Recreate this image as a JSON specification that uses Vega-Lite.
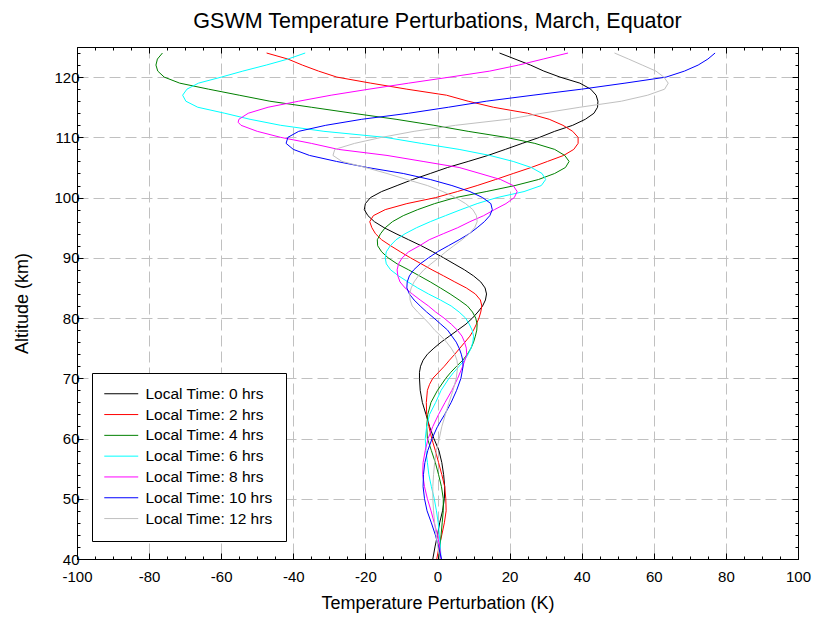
{
  "$schema": "https://vega.github.io/schema/vega-lite/v6.json",
  "width": 721,
  "height": 512,
  "autosize": {"type": "none"},
  "padding": {"left": 77, "top": 47, "right": 17, "bottom": 61},
  "background": "white",
  "title": {
    "text": "GSWM Temperature Perturbations, March, Equator",
    "font": "Liberation Sans",
    "fontSize": 21.5,
    "fontWeight": "normal",
    "color": "black",
    "anchor": "middle",
    "baseline": "bottom",
    "offset": -8
  },
  "datasets": {
    "gswm": [
      {"series": "Local Time: 0 hrs", "alt": 124, "temp": 17.2},
      {"series": "Local Time: 0 hrs", "alt": 123, "temp": 21.5},
      {"series": "Local Time: 0 hrs", "alt": 122, "temp": 25.8},
      {"series": "Local Time: 0 hrs", "alt": 121, "temp": 29.5},
      {"series": "Local Time: 0 hrs", "alt": 120, "temp": 34.0},
      {"series": "Local Time: 0 hrs", "alt": 119, "temp": 39.5},
      {"series": "Local Time: 0 hrs", "alt": 118, "temp": 42.5},
      {"series": "Local Time: 0 hrs", "alt": 117, "temp": 44.0},
      {"series": "Local Time: 0 hrs", "alt": 116, "temp": 44.5},
      {"series": "Local Time: 0 hrs", "alt": 115, "temp": 44.4},
      {"series": "Local Time: 0 hrs", "alt": 114, "temp": 43.4},
      {"series": "Local Time: 0 hrs", "alt": 113, "temp": 41.0},
      {"series": "Local Time: 0 hrs", "alt": 112, "temp": 37.5},
      {"series": "Local Time: 0 hrs", "alt": 111, "temp": 32.5},
      {"series": "Local Time: 0 hrs", "alt": 110, "temp": 28.3},
      {"series": "Local Time: 0 hrs", "alt": 109, "temp": 23.5},
      {"series": "Local Time: 0 hrs", "alt": 108, "temp": 18.8},
      {"series": "Local Time: 0 hrs", "alt": 107, "temp": 14.0},
      {"series": "Local Time: 0 hrs", "alt": 106, "temp": 8.5},
      {"series": "Local Time: 0 hrs", "alt": 105, "temp": 2.8},
      {"series": "Local Time: 0 hrs", "alt": 104, "temp": -2.0},
      {"series": "Local Time: 0 hrs", "alt": 103, "temp": -6.9},
      {"series": "Local Time: 0 hrs", "alt": 102, "temp": -11.2},
      {"series": "Local Time: 0 hrs", "alt": 101, "temp": -15.5},
      {"series": "Local Time: 0 hrs", "alt": 100, "temp": -18.6},
      {"series": "Local Time: 0 hrs", "alt": 99, "temp": -20.0},
      {"series": "Local Time: 0 hrs", "alt": 98, "temp": -20.3},
      {"series": "Local Time: 0 hrs", "alt": 97, "temp": -19.3},
      {"series": "Local Time: 0 hrs", "alt": 96, "temp": -17.5},
      {"series": "Local Time: 0 hrs", "alt": 95, "temp": -14.8},
      {"series": "Local Time: 0 hrs", "alt": 94, "temp": -11.5},
      {"series": "Local Time: 0 hrs", "alt": 93, "temp": -8.0},
      {"series": "Local Time: 0 hrs", "alt": 92, "temp": -4.5},
      {"series": "Local Time: 0 hrs", "alt": 91, "temp": -1.3},
      {"series": "Local Time: 0 hrs", "alt": 90, "temp": 1.7},
      {"series": "Local Time: 0 hrs", "alt": 89, "temp": 4.6},
      {"series": "Local Time: 0 hrs", "alt": 88, "temp": 7.5},
      {"series": "Local Time: 0 hrs", "alt": 87, "temp": 10.0},
      {"series": "Local Time: 0 hrs", "alt": 86, "temp": 12.0},
      {"series": "Local Time: 0 hrs", "alt": 85, "temp": 13.2},
      {"series": "Local Time: 0 hrs", "alt": 84, "temp": 13.6},
      {"series": "Local Time: 0 hrs", "alt": 83, "temp": 13.3},
      {"series": "Local Time: 0 hrs", "alt": 82, "temp": 12.5},
      {"series": "Local Time: 0 hrs", "alt": 81, "temp": 11.2},
      {"series": "Local Time: 0 hrs", "alt": 80, "temp": 9.7},
      {"series": "Local Time: 0 hrs", "alt": 79, "temp": 7.9},
      {"series": "Local Time: 0 hrs", "alt": 78, "temp": 5.6},
      {"series": "Local Time: 0 hrs", "alt": 77, "temp": 3.3},
      {"series": "Local Time: 0 hrs", "alt": 76, "temp": 1.0},
      {"series": "Local Time: 0 hrs", "alt": 75, "temp": -1.0},
      {"series": "Local Time: 0 hrs", "alt": 74, "temp": -2.8},
      {"series": "Local Time: 0 hrs", "alt": 73, "temp": -4.0},
      {"series": "Local Time: 0 hrs", "alt": 72, "temp": -4.7},
      {"series": "Local Time: 0 hrs", "alt": 71, "temp": -5.0},
      {"series": "Local Time: 0 hrs", "alt": 70, "temp": -5.0},
      {"series": "Local Time: 0 hrs", "alt": 68, "temp": -4.8},
      {"series": "Local Time: 0 hrs", "alt": 66, "temp": -4.2},
      {"series": "Local Time: 0 hrs", "alt": 64, "temp": -3.2},
      {"series": "Local Time: 0 hrs", "alt": 62, "temp": -2.2},
      {"series": "Local Time: 0 hrs", "alt": 60, "temp": -1.0},
      {"series": "Local Time: 0 hrs", "alt": 58, "temp": 0.4},
      {"series": "Local Time: 0 hrs", "alt": 56, "temp": 1.2},
      {"series": "Local Time: 0 hrs", "alt": 54, "temp": 1.7},
      {"series": "Local Time: 0 hrs", "alt": 52, "temp": 2.0},
      {"series": "Local Time: 0 hrs", "alt": 50, "temp": 1.9},
      {"series": "Local Time: 0 hrs", "alt": 48, "temp": 1.4},
      {"series": "Local Time: 0 hrs", "alt": 46, "temp": 0.6},
      {"series": "Local Time: 0 hrs", "alt": 44, "temp": 0.0},
      {"series": "Local Time: 0 hrs", "alt": 42, "temp": -0.7},
      {"series": "Local Time: 0 hrs", "alt": 40, "temp": -1.3},

      {"series": "Local Time: 2 hrs", "alt": 124, "temp": -47.4},
      {"series": "Local Time: 2 hrs", "alt": 123, "temp": -41.5},
      {"series": "Local Time: 2 hrs", "alt": 122, "temp": -37.5},
      {"series": "Local Time: 2 hrs", "alt": 121, "temp": -33.0},
      {"series": "Local Time: 2 hrs", "alt": 120, "temp": -27.9},
      {"series": "Local Time: 2 hrs", "alt": 119, "temp": -18.5},
      {"series": "Local Time: 2 hrs", "alt": 118, "temp": -8.5},
      {"series": "Local Time: 2 hrs", "alt": 117, "temp": 2.5},
      {"series": "Local Time: 2 hrs", "alt": 116, "temp": 8.5},
      {"series": "Local Time: 2 hrs", "alt": 115, "temp": 15.5},
      {"series": "Local Time: 2 hrs", "alt": 114, "temp": 25.0},
      {"series": "Local Time: 2 hrs", "alt": 113, "temp": 31.0},
      {"series": "Local Time: 2 hrs", "alt": 112, "temp": 34.8},
      {"series": "Local Time: 2 hrs", "alt": 111, "temp": 37.5},
      {"series": "Local Time: 2 hrs", "alt": 110, "temp": 39.0},
      {"series": "Local Time: 2 hrs", "alt": 109, "temp": 39.0},
      {"series": "Local Time: 2 hrs", "alt": 108, "temp": 37.8},
      {"series": "Local Time: 2 hrs", "alt": 107, "temp": 35.0},
      {"series": "Local Time: 2 hrs", "alt": 106, "temp": 30.5},
      {"series": "Local Time: 2 hrs", "alt": 105, "temp": 26.0},
      {"series": "Local Time: 2 hrs", "alt": 104, "temp": 21.0},
      {"series": "Local Time: 2 hrs", "alt": 103, "temp": 16.1},
      {"series": "Local Time: 2 hrs", "alt": 102, "temp": 11.0},
      {"series": "Local Time: 2 hrs", "alt": 101, "temp": 5.5},
      {"series": "Local Time: 2 hrs", "alt": 100, "temp": -0.5},
      {"series": "Local Time: 2 hrs", "alt": 99, "temp": -8.5},
      {"series": "Local Time: 2 hrs", "alt": 98, "temp": -14.5},
      {"series": "Local Time: 2 hrs", "alt": 97, "temp": -17.8},
      {"series": "Local Time: 2 hrs", "alt": 96, "temp": -18.8},
      {"series": "Local Time: 2 hrs", "alt": 95, "temp": -18.2},
      {"series": "Local Time: 2 hrs", "alt": 94, "temp": -17.2},
      {"series": "Local Time: 2 hrs", "alt": 93, "temp": -15.5},
      {"series": "Local Time: 2 hrs", "alt": 92, "temp": -13.0},
      {"series": "Local Time: 2 hrs", "alt": 91, "temp": -10.3},
      {"series": "Local Time: 2 hrs", "alt": 90, "temp": -7.5},
      {"series": "Local Time: 2 hrs", "alt": 89, "temp": -4.5},
      {"series": "Local Time: 2 hrs", "alt": 88, "temp": -1.5},
      {"series": "Local Time: 2 hrs", "alt": 87, "temp": 1.7},
      {"series": "Local Time: 2 hrs", "alt": 86, "temp": 4.8},
      {"series": "Local Time: 2 hrs", "alt": 85, "temp": 8.0},
      {"series": "Local Time: 2 hrs", "alt": 84, "temp": 10.5},
      {"series": "Local Time: 2 hrs", "alt": 83, "temp": 11.9},
      {"series": "Local Time: 2 hrs", "alt": 82, "temp": 12.3},
      {"series": "Local Time: 2 hrs", "alt": 81, "temp": 12.0},
      {"series": "Local Time: 2 hrs", "alt": 80, "temp": 11.5},
      {"series": "Local Time: 2 hrs", "alt": 79, "temp": 10.8},
      {"series": "Local Time: 2 hrs", "alt": 78, "temp": 10.0},
      {"series": "Local Time: 2 hrs", "alt": 77, "temp": 9.0},
      {"series": "Local Time: 2 hrs", "alt": 76, "temp": 7.6},
      {"series": "Local Time: 2 hrs", "alt": 75, "temp": 6.2},
      {"series": "Local Time: 2 hrs", "alt": 74, "temp": 4.8},
      {"series": "Local Time: 2 hrs", "alt": 73, "temp": 3.3},
      {"series": "Local Time: 2 hrs", "alt": 72, "temp": 1.9},
      {"series": "Local Time: 2 hrs", "alt": 71, "temp": 0.3},
      {"series": "Local Time: 2 hrs", "alt": 70, "temp": -1.3},
      {"series": "Local Time: 2 hrs", "alt": 69, "temp": -2.2},
      {"series": "Local Time: 2 hrs", "alt": 68, "temp": -2.8},
      {"series": "Local Time: 2 hrs", "alt": 66, "temp": -3.1},
      {"series": "Local Time: 2 hrs", "alt": 64, "temp": -3.0},
      {"series": "Local Time: 2 hrs", "alt": 62, "temp": -2.4},
      {"series": "Local Time: 2 hrs", "alt": 60, "temp": -1.6},
      {"series": "Local Time: 2 hrs", "alt": 58, "temp": -0.6},
      {"series": "Local Time: 2 hrs", "alt": 56, "temp": 0.3},
      {"series": "Local Time: 2 hrs", "alt": 54, "temp": 1.2},
      {"series": "Local Time: 2 hrs", "alt": 52, "temp": 2.0},
      {"series": "Local Time: 2 hrs", "alt": 50, "temp": 2.3},
      {"series": "Local Time: 2 hrs", "alt": 48, "temp": 2.4},
      {"series": "Local Time: 2 hrs", "alt": 46, "temp": 1.9},
      {"series": "Local Time: 2 hrs", "alt": 44, "temp": 1.2},
      {"series": "Local Time: 2 hrs", "alt": 42, "temp": 0.4},
      {"series": "Local Time: 2 hrs", "alt": 40, "temp": -0.2},

      {"series": "Local Time: 4 hrs", "alt": 124, "temp": -76.3},
      {"series": "Local Time: 4 hrs", "alt": 123, "temp": -77.7},
      {"series": "Local Time: 4 hrs", "alt": 122, "temp": -78.1},
      {"series": "Local Time: 4 hrs", "alt": 121, "temp": -77.6},
      {"series": "Local Time: 4 hrs", "alt": 120, "temp": -75.8},
      {"series": "Local Time: 4 hrs", "alt": 119, "temp": -71.5},
      {"series": "Local Time: 4 hrs", "alt": 118, "temp": -63.5},
      {"series": "Local Time: 4 hrs", "alt": 117, "temp": -55.0},
      {"series": "Local Time: 4 hrs", "alt": 116, "temp": -46.5},
      {"series": "Local Time: 4 hrs", "alt": 115, "temp": -35.0},
      {"series": "Local Time: 4 hrs", "alt": 114, "temp": -23.5},
      {"series": "Local Time: 4 hrs", "alt": 113, "temp": -11.5},
      {"series": "Local Time: 4 hrs", "alt": 112, "temp": -1.0},
      {"series": "Local Time: 4 hrs", "alt": 111, "temp": 8.5},
      {"series": "Local Time: 4 hrs", "alt": 110, "temp": 19.0},
      {"series": "Local Time: 4 hrs", "alt": 109, "temp": 27.0},
      {"series": "Local Time: 4 hrs", "alt": 108, "temp": 32.5},
      {"series": "Local Time: 4 hrs", "alt": 107, "temp": 35.3},
      {"series": "Local Time: 4 hrs", "alt": 106, "temp": 36.5},
      {"series": "Local Time: 4 hrs", "alt": 105, "temp": 35.5},
      {"series": "Local Time: 4 hrs", "alt": 104, "temp": 32.5},
      {"series": "Local Time: 4 hrs", "alt": 103, "temp": 28.0},
      {"series": "Local Time: 4 hrs", "alt": 102, "temp": 21.5},
      {"series": "Local Time: 4 hrs", "alt": 101, "temp": 13.5},
      {"series": "Local Time: 4 hrs", "alt": 100, "temp": 5.0},
      {"series": "Local Time: 4 hrs", "alt": 99, "temp": -0.8},
      {"series": "Local Time: 4 hrs", "alt": 98, "temp": -5.5},
      {"series": "Local Time: 4 hrs", "alt": 97, "temp": -9.5},
      {"series": "Local Time: 4 hrs", "alt": 96, "temp": -12.5},
      {"series": "Local Time: 4 hrs", "alt": 95, "temp": -14.5},
      {"series": "Local Time: 4 hrs", "alt": 94, "temp": -15.8},
      {"series": "Local Time: 4 hrs", "alt": 93, "temp": -16.7},
      {"series": "Local Time: 4 hrs", "alt": 92, "temp": -16.6},
      {"series": "Local Time: 4 hrs", "alt": 91, "temp": -15.5},
      {"series": "Local Time: 4 hrs", "alt": 90, "temp": -13.7},
      {"series": "Local Time: 4 hrs", "alt": 89, "temp": -11.2},
      {"series": "Local Time: 4 hrs", "alt": 88, "temp": -8.0},
      {"series": "Local Time: 4 hrs", "alt": 87, "temp": -5.0},
      {"series": "Local Time: 4 hrs", "alt": 86, "temp": -2.0},
      {"series": "Local Time: 4 hrs", "alt": 85, "temp": 0.8},
      {"series": "Local Time: 4 hrs", "alt": 84, "temp": 3.5},
      {"series": "Local Time: 4 hrs", "alt": 83, "temp": 6.0},
      {"series": "Local Time: 4 hrs", "alt": 82, "temp": 8.3},
      {"series": "Local Time: 4 hrs", "alt": 81, "temp": 9.7},
      {"series": "Local Time: 4 hrs", "alt": 80, "temp": 10.6},
      {"series": "Local Time: 4 hrs", "alt": 79, "temp": 11.0},
      {"series": "Local Time: 4 hrs", "alt": 78, "temp": 10.9},
      {"series": "Local Time: 4 hrs", "alt": 77, "temp": 10.5},
      {"series": "Local Time: 4 hrs", "alt": 76, "temp": 10.0},
      {"series": "Local Time: 4 hrs", "alt": 75, "temp": 9.3},
      {"series": "Local Time: 4 hrs", "alt": 74, "temp": 8.3},
      {"series": "Local Time: 4 hrs", "alt": 73, "temp": 7.0},
      {"series": "Local Time: 4 hrs", "alt": 72, "temp": 5.3},
      {"series": "Local Time: 4 hrs", "alt": 71, "temp": 3.7},
      {"series": "Local Time: 4 hrs", "alt": 70, "temp": 2.3},
      {"series": "Local Time: 4 hrs", "alt": 68, "temp": 0.0},
      {"series": "Local Time: 4 hrs", "alt": 66, "temp": -1.8},
      {"series": "Local Time: 4 hrs", "alt": 64, "temp": -2.7},
      {"series": "Local Time: 4 hrs", "alt": 62, "temp": -3.0},
      {"series": "Local Time: 4 hrs", "alt": 60, "temp": -2.8},
      {"series": "Local Time: 4 hrs", "alt": 58, "temp": -1.7},
      {"series": "Local Time: 4 hrs", "alt": 56, "temp": -0.6},
      {"series": "Local Time: 4 hrs", "alt": 54, "temp": 0.3},
      {"series": "Local Time: 4 hrs", "alt": 52, "temp": 1.1},
      {"series": "Local Time: 4 hrs", "alt": 50, "temp": 1.6},
      {"series": "Local Time: 4 hrs", "alt": 48, "temp": 1.6},
      {"series": "Local Time: 4 hrs", "alt": 46, "temp": 1.3},
      {"series": "Local Time: 4 hrs", "alt": 44, "temp": 1.0},
      {"series": "Local Time: 4 hrs", "alt": 42, "temp": 0.7},
      {"series": "Local Time: 4 hrs", "alt": 40, "temp": 0.5},

      {"series": "Local Time: 6 hrs", "alt": 124, "temp": -36.7},
      {"series": "Local Time: 6 hrs", "alt": 123, "temp": -41.5},
      {"series": "Local Time: 6 hrs", "alt": 122, "temp": -47.5},
      {"series": "Local Time: 6 hrs", "alt": 121, "temp": -54.0},
      {"series": "Local Time: 6 hrs", "alt": 120, "temp": -60.0},
      {"series": "Local Time: 6 hrs", "alt": 119, "temp": -66.3},
      {"series": "Local Time: 6 hrs", "alt": 118, "temp": -69.5},
      {"series": "Local Time: 6 hrs", "alt": 117, "temp": -70.7},
      {"series": "Local Time: 6 hrs", "alt": 116, "temp": -69.8},
      {"series": "Local Time: 6 hrs", "alt": 115, "temp": -66.5},
      {"series": "Local Time: 6 hrs", "alt": 114, "temp": -59.0},
      {"series": "Local Time: 6 hrs", "alt": 113, "temp": -52.0},
      {"series": "Local Time: 6 hrs", "alt": 112, "temp": -43.5},
      {"series": "Local Time: 6 hrs", "alt": 111, "temp": -31.5},
      {"series": "Local Time: 6 hrs", "alt": 110, "temp": -14.5},
      {"series": "Local Time: 6 hrs", "alt": 109, "temp": -4.5},
      {"series": "Local Time: 6 hrs", "alt": 108, "temp": 6.0},
      {"series": "Local Time: 6 hrs", "alt": 107, "temp": 14.5},
      {"series": "Local Time: 6 hrs", "alt": 106, "temp": 21.0},
      {"series": "Local Time: 6 hrs", "alt": 105, "temp": 26.0},
      {"series": "Local Time: 6 hrs", "alt": 104, "temp": 29.0},
      {"series": "Local Time: 6 hrs", "alt": 103, "temp": 30.0},
      {"series": "Local Time: 6 hrs", "alt": 102, "temp": 28.8},
      {"series": "Local Time: 6 hrs", "alt": 101, "temp": 24.0},
      {"series": "Local Time: 6 hrs", "alt": 100, "temp": 16.5},
      {"series": "Local Time: 6 hrs", "alt": 99, "temp": 11.0},
      {"series": "Local Time: 6 hrs", "alt": 98, "temp": 6.5},
      {"series": "Local Time: 6 hrs", "alt": 97, "temp": 2.2},
      {"series": "Local Time: 6 hrs", "alt": 96, "temp": -2.0},
      {"series": "Local Time: 6 hrs", "alt": 95, "temp": -5.8},
      {"series": "Local Time: 6 hrs", "alt": 94, "temp": -9.0},
      {"series": "Local Time: 6 hrs", "alt": 93, "temp": -11.5},
      {"series": "Local Time: 6 hrs", "alt": 92, "temp": -13.1},
      {"series": "Local Time: 6 hrs", "alt": 91, "temp": -14.2},
      {"series": "Local Time: 6 hrs", "alt": 90, "temp": -14.5},
      {"series": "Local Time: 6 hrs", "alt": 89, "temp": -14.2},
      {"series": "Local Time: 6 hrs", "alt": 88, "temp": -13.0},
      {"series": "Local Time: 6 hrs", "alt": 87, "temp": -10.8},
      {"series": "Local Time: 6 hrs", "alt": 86, "temp": -8.2},
      {"series": "Local Time: 6 hrs", "alt": 85, "temp": -5.5},
      {"series": "Local Time: 6 hrs", "alt": 84, "temp": -2.5},
      {"series": "Local Time: 6 hrs", "alt": 83, "temp": 0.8},
      {"series": "Local Time: 6 hrs", "alt": 82, "temp": 3.8},
      {"series": "Local Time: 6 hrs", "alt": 81, "temp": 6.0},
      {"series": "Local Time: 6 hrs", "alt": 80, "temp": 7.8},
      {"series": "Local Time: 6 hrs", "alt": 79, "temp": 8.8},
      {"series": "Local Time: 6 hrs", "alt": 78, "temp": 9.6},
      {"series": "Local Time: 6 hrs", "alt": 77, "temp": 10.0},
      {"series": "Local Time: 6 hrs", "alt": 76, "temp": 9.8},
      {"series": "Local Time: 6 hrs", "alt": 75, "temp": 9.3},
      {"series": "Local Time: 6 hrs", "alt": 74, "temp": 8.5},
      {"series": "Local Time: 6 hrs", "alt": 73, "temp": 7.5},
      {"series": "Local Time: 6 hrs", "alt": 72, "temp": 6.0},
      {"series": "Local Time: 6 hrs", "alt": 71, "temp": 4.5},
      {"series": "Local Time: 6 hrs", "alt": 70, "temp": 3.2},
      {"series": "Local Time: 6 hrs", "alt": 68, "temp": 1.0},
      {"series": "Local Time: 6 hrs", "alt": 66, "temp": -0.5},
      {"series": "Local Time: 6 hrs", "alt": 64, "temp": -2.2},
      {"series": "Local Time: 6 hrs", "alt": 62, "temp": -3.0},
      {"series": "Local Time: 6 hrs", "alt": 60, "temp": -3.4},
      {"series": "Local Time: 6 hrs", "alt": 58, "temp": -3.2},
      {"series": "Local Time: 6 hrs", "alt": 56, "temp": -2.8},
      {"series": "Local Time: 6 hrs", "alt": 54, "temp": -2.4},
      {"series": "Local Time: 6 hrs", "alt": 52, "temp": -1.7},
      {"series": "Local Time: 6 hrs", "alt": 50, "temp": -0.9},
      {"series": "Local Time: 6 hrs", "alt": 48, "temp": -0.3},
      {"series": "Local Time: 6 hrs", "alt": 46, "temp": 0.2},
      {"series": "Local Time: 6 hrs", "alt": 44, "temp": 0.5},
      {"series": "Local Time: 6 hrs", "alt": 42, "temp": 0.8},
      {"series": "Local Time: 6 hrs", "alt": 40, "temp": 1.0},

      {"series": "Local Time: 8 hrs", "alt": 124, "temp": 36.2},
      {"series": "Local Time: 8 hrs", "alt": 123, "temp": 29.3},
      {"series": "Local Time: 8 hrs", "alt": 122, "temp": 22.5},
      {"series": "Local Time: 8 hrs", "alt": 121, "temp": 14.5},
      {"series": "Local Time: 8 hrs", "alt": 120, "temp": 3.4},
      {"series": "Local Time: 8 hrs", "alt": 119, "temp": -8.0},
      {"series": "Local Time: 8 hrs", "alt": 118, "temp": -19.0},
      {"series": "Local Time: 8 hrs", "alt": 117, "temp": -29.5},
      {"series": "Local Time: 8 hrs", "alt": 116, "temp": -38.5},
      {"series": "Local Time: 8 hrs", "alt": 115, "temp": -47.0},
      {"series": "Local Time: 8 hrs", "alt": 114, "temp": -52.5},
      {"series": "Local Time: 8 hrs", "alt": 113, "temp": -55.1},
      {"series": "Local Time: 8 hrs", "alt": 112.5, "temp": -55.3},
      {"series": "Local Time: 8 hrs", "alt": 112, "temp": -54.5},
      {"series": "Local Time: 8 hrs", "alt": 111, "temp": -50.0},
      {"series": "Local Time: 8 hrs", "alt": 110, "temp": -43.5},
      {"series": "Local Time: 8 hrs", "alt": 109, "temp": -35.0},
      {"series": "Local Time: 8 hrs", "alt": 108, "temp": -27.5},
      {"series": "Local Time: 8 hrs", "alt": 107, "temp": -14.0},
      {"series": "Local Time: 8 hrs", "alt": 106, "temp": -4.0},
      {"series": "Local Time: 8 hrs", "alt": 105, "temp": 6.0},
      {"series": "Local Time: 8 hrs", "alt": 104, "temp": 11.8},
      {"series": "Local Time: 8 hrs", "alt": 103, "temp": 17.5},
      {"series": "Local Time: 8 hrs", "alt": 102, "temp": 21.0},
      {"series": "Local Time: 8 hrs", "alt": 101, "temp": 22.1},
      {"series": "Local Time: 8 hrs", "alt": 100, "temp": 21.3},
      {"series": "Local Time: 8 hrs", "alt": 99, "temp": 19.0},
      {"series": "Local Time: 8 hrs", "alt": 98, "temp": 15.8},
      {"series": "Local Time: 8 hrs", "alt": 97, "temp": 12.8},
      {"series": "Local Time: 8 hrs", "alt": 96, "temp": 9.0},
      {"series": "Local Time: 8 hrs", "alt": 95, "temp": 5.6},
      {"series": "Local Time: 8 hrs", "alt": 94, "temp": 1.6},
      {"series": "Local Time: 8 hrs", "alt": 93, "temp": -2.3},
      {"series": "Local Time: 8 hrs", "alt": 92, "temp": -5.0},
      {"series": "Local Time: 8 hrs", "alt": 91, "temp": -8.0},
      {"series": "Local Time: 8 hrs", "alt": 90, "temp": -9.8},
      {"series": "Local Time: 8 hrs", "alt": 89, "temp": -10.8},
      {"series": "Local Time: 8 hrs", "alt": 88, "temp": -11.2},
      {"series": "Local Time: 8 hrs", "alt": 87, "temp": -11.0},
      {"series": "Local Time: 8 hrs", "alt": 86, "temp": -10.4},
      {"series": "Local Time: 8 hrs", "alt": 85, "temp": -9.0},
      {"series": "Local Time: 8 hrs", "alt": 84, "temp": -7.0},
      {"series": "Local Time: 8 hrs", "alt": 83, "temp": -4.8},
      {"series": "Local Time: 8 hrs", "alt": 82, "temp": -2.5},
      {"series": "Local Time: 8 hrs", "alt": 81, "temp": -0.5},
      {"series": "Local Time: 8 hrs", "alt": 80, "temp": 1.8},
      {"series": "Local Time: 8 hrs", "alt": 79, "temp": 3.8},
      {"series": "Local Time: 8 hrs", "alt": 78, "temp": 5.5},
      {"series": "Local Time: 8 hrs", "alt": 77, "temp": 6.8},
      {"series": "Local Time: 8 hrs", "alt": 76, "temp": 7.5},
      {"series": "Local Time: 8 hrs", "alt": 75, "temp": 8.0},
      {"series": "Local Time: 8 hrs", "alt": 74, "temp": 8.1},
      {"series": "Local Time: 8 hrs", "alt": 73, "temp": 7.6},
      {"series": "Local Time: 8 hrs", "alt": 72, "temp": 7.0},
      {"series": "Local Time: 8 hrs", "alt": 70, "temp": 5.6},
      {"series": "Local Time: 8 hrs", "alt": 68, "temp": 4.0},
      {"series": "Local Time: 8 hrs", "alt": 66, "temp": 2.1},
      {"series": "Local Time: 8 hrs", "alt": 64, "temp": 0.3},
      {"series": "Local Time: 8 hrs", "alt": 62, "temp": -1.3},
      {"series": "Local Time: 8 hrs", "alt": 60, "temp": -2.6},
      {"series": "Local Time: 8 hrs", "alt": 58, "temp": -3.4},
      {"series": "Local Time: 8 hrs", "alt": 56, "temp": -4.0},
      {"series": "Local Time: 8 hrs", "alt": 54, "temp": -4.1},
      {"series": "Local Time: 8 hrs", "alt": 52, "temp": -3.6},
      {"series": "Local Time: 8 hrs", "alt": 50, "temp": -2.8},
      {"series": "Local Time: 8 hrs", "alt": 48, "temp": -1.8},
      {"series": "Local Time: 8 hrs", "alt": 46, "temp": -0.9},
      {"series": "Local Time: 8 hrs", "alt": 44, "temp": 0.0},
      {"series": "Local Time: 8 hrs", "alt": 42, "temp": 0.6},
      {"series": "Local Time: 8 hrs", "alt": 40, "temp": 1.0},

      {"series": "Local Time: 10 hrs", "alt": 124, "temp": 77.0},
      {"series": "Local Time: 10 hrs", "alt": 123, "temp": 75.0},
      {"series": "Local Time: 10 hrs", "alt": 122, "temp": 72.3},
      {"series": "Local Time: 10 hrs", "alt": 121, "temp": 68.5},
      {"series": "Local Time: 10 hrs", "alt": 120, "temp": 63.4},
      {"series": "Local Time: 10 hrs", "alt": 119, "temp": 52.0},
      {"series": "Local Time: 10 hrs", "alt": 118, "temp": 40.0},
      {"series": "Local Time: 10 hrs", "alt": 117, "temp": 26.5},
      {"series": "Local Time: 10 hrs", "alt": 116, "temp": 13.5},
      {"series": "Local Time: 10 hrs", "alt": 115, "temp": 3.0},
      {"series": "Local Time: 10 hrs", "alt": 114, "temp": -8.0},
      {"series": "Local Time: 10 hrs", "alt": 113, "temp": -21.0},
      {"series": "Local Time: 10 hrs", "alt": 112, "temp": -31.0},
      {"series": "Local Time: 10 hrs", "alt": 111, "temp": -38.5},
      {"series": "Local Time: 10 hrs", "alt": 110, "temp": -41.5},
      {"series": "Local Time: 10 hrs", "alt": 109, "temp": -42.0},
      {"series": "Local Time: 10 hrs", "alt": 108, "temp": -40.0},
      {"series": "Local Time: 10 hrs", "alt": 107, "temp": -35.5},
      {"series": "Local Time: 10 hrs", "alt": 106, "temp": -28.0},
      {"series": "Local Time: 10 hrs", "alt": 105, "temp": -19.5},
      {"series": "Local Time: 10 hrs", "alt": 104, "temp": -9.5},
      {"series": "Local Time: 10 hrs", "alt": 103, "temp": -2.0},
      {"series": "Local Time: 10 hrs", "alt": 102, "temp": 4.0},
      {"series": "Local Time: 10 hrs", "alt": 101, "temp": 9.0},
      {"series": "Local Time: 10 hrs", "alt": 100, "temp": 12.5},
      {"series": "Local Time: 10 hrs", "alt": 99, "temp": 14.8},
      {"series": "Local Time: 10 hrs", "alt": 98, "temp": 15.2},
      {"series": "Local Time: 10 hrs", "alt": 97, "temp": 14.5},
      {"series": "Local Time: 10 hrs", "alt": 96, "temp": 13.0},
      {"series": "Local Time: 10 hrs", "alt": 95, "temp": 11.0},
      {"series": "Local Time: 10 hrs", "alt": 94, "temp": 8.8},
      {"series": "Local Time: 10 hrs", "alt": 93, "temp": 6.0},
      {"series": "Local Time: 10 hrs", "alt": 92, "temp": 3.0},
      {"series": "Local Time: 10 hrs", "alt": 91, "temp": 0.0},
      {"series": "Local Time: 10 hrs", "alt": 90, "temp": -2.5},
      {"series": "Local Time: 10 hrs", "alt": 89, "temp": -4.8},
      {"series": "Local Time: 10 hrs", "alt": 88, "temp": -6.6},
      {"series": "Local Time: 10 hrs", "alt": 87, "temp": -7.8},
      {"series": "Local Time: 10 hrs", "alt": 86, "temp": -8.4},
      {"series": "Local Time: 10 hrs", "alt": 85, "temp": -8.5},
      {"series": "Local Time: 10 hrs", "alt": 84, "temp": -7.8},
      {"series": "Local Time: 10 hrs", "alt": 83, "temp": -6.5},
      {"series": "Local Time: 10 hrs", "alt": 82, "temp": -4.8},
      {"series": "Local Time: 10 hrs", "alt": 81, "temp": -3.0},
      {"series": "Local Time: 10 hrs", "alt": 80, "temp": -1.0},
      {"series": "Local Time: 10 hrs", "alt": 79, "temp": 0.9},
      {"series": "Local Time: 10 hrs", "alt": 78, "temp": 2.8},
      {"series": "Local Time: 10 hrs", "alt": 77, "temp": 4.0},
      {"series": "Local Time: 10 hrs", "alt": 76, "temp": 5.2},
      {"series": "Local Time: 10 hrs", "alt": 75, "temp": 6.0},
      {"series": "Local Time: 10 hrs", "alt": 74, "temp": 6.6},
      {"series": "Local Time: 10 hrs", "alt": 73, "temp": 7.0},
      {"series": "Local Time: 10 hrs", "alt": 72, "temp": 7.1},
      {"series": "Local Time: 10 hrs", "alt": 70, "temp": 6.5},
      {"series": "Local Time: 10 hrs", "alt": 68, "temp": 5.3},
      {"series": "Local Time: 10 hrs", "alt": 66, "temp": 3.8},
      {"series": "Local Time: 10 hrs", "alt": 64, "temp": 2.0},
      {"series": "Local Time: 10 hrs", "alt": 62, "temp": 0.0},
      {"series": "Local Time: 10 hrs", "alt": 60, "temp": -1.5},
      {"series": "Local Time: 10 hrs", "alt": 58, "temp": -2.7},
      {"series": "Local Time: 10 hrs", "alt": 56, "temp": -3.5},
      {"series": "Local Time: 10 hrs", "alt": 54, "temp": -3.9},
      {"series": "Local Time: 10 hrs", "alt": 52, "temp": -4.0},
      {"series": "Local Time: 10 hrs", "alt": 50, "temp": -3.6},
      {"series": "Local Time: 10 hrs", "alt": 48, "temp": -2.9},
      {"series": "Local Time: 10 hrs", "alt": 46, "temp": -1.7},
      {"series": "Local Time: 10 hrs", "alt": 44, "temp": -0.6},
      {"series": "Local Time: 10 hrs", "alt": 42, "temp": 0.3},
      {"series": "Local Time: 10 hrs", "alt": 40, "temp": 1.1},

      {"series": "Local Time: 12 hrs", "alt": 124, "temp": 49.1},
      {"series": "Local Time: 12 hrs", "alt": 123, "temp": 53.0},
      {"series": "Local Time: 12 hrs", "alt": 122, "temp": 56.8},
      {"series": "Local Time: 12 hrs", "alt": 121, "temp": 60.6},
      {"series": "Local Time: 12 hrs", "alt": 120, "temp": 62.8},
      {"series": "Local Time: 12 hrs", "alt": 119, "temp": 64.0},
      {"series": "Local Time: 12 hrs", "alt": 118, "temp": 63.0},
      {"series": "Local Time: 12 hrs", "alt": 117, "temp": 58.3},
      {"series": "Local Time: 12 hrs", "alt": 116, "temp": 51.0},
      {"series": "Local Time: 12 hrs", "alt": 115, "temp": 39.5},
      {"series": "Local Time: 12 hrs", "alt": 114, "temp": 29.0},
      {"series": "Local Time: 12 hrs", "alt": 113, "temp": 19.5},
      {"series": "Local Time: 12 hrs", "alt": 112, "temp": 5.0},
      {"series": "Local Time: 12 hrs", "alt": 111, "temp": -6.5},
      {"series": "Local Time: 12 hrs", "alt": 110, "temp": -15.5},
      {"series": "Local Time: 12 hrs", "alt": 109, "temp": -23.0},
      {"series": "Local Time: 12 hrs", "alt": 108, "temp": -28.5},
      {"series": "Local Time: 12 hrs", "alt": 107, "temp": -29.0},
      {"series": "Local Time: 12 hrs", "alt": 106, "temp": -26.5},
      {"series": "Local Time: 12 hrs", "alt": 105, "temp": -20.0},
      {"series": "Local Time: 12 hrs", "alt": 104, "temp": -14.0},
      {"series": "Local Time: 12 hrs", "alt": 103, "temp": -8.5},
      {"series": "Local Time: 12 hrs", "alt": 102, "temp": -2.8},
      {"series": "Local Time: 12 hrs", "alt": 101, "temp": 1.5},
      {"series": "Local Time: 12 hrs", "alt": 100, "temp": 5.0},
      {"series": "Local Time: 12 hrs", "alt": 99, "temp": 7.8},
      {"series": "Local Time: 12 hrs", "alt": 98, "temp": 9.8},
      {"series": "Local Time: 12 hrs", "alt": 97, "temp": 10.8},
      {"series": "Local Time: 12 hrs", "alt": 96, "temp": 11.0},
      {"series": "Local Time: 12 hrs", "alt": 95, "temp": 10.3},
      {"series": "Local Time: 12 hrs", "alt": 94, "temp": 8.8},
      {"series": "Local Time: 12 hrs", "alt": 93, "temp": 6.8},
      {"series": "Local Time: 12 hrs", "alt": 92, "temp": 4.5},
      {"series": "Local Time: 12 hrs", "alt": 91, "temp": 2.3},
      {"series": "Local Time: 12 hrs", "alt": 90, "temp": 0.3},
      {"series": "Local Time: 12 hrs", "alt": 89, "temp": -1.8},
      {"series": "Local Time: 12 hrs", "alt": 88, "temp": -3.8},
      {"series": "Local Time: 12 hrs", "alt": 87, "temp": -5.3},
      {"series": "Local Time: 12 hrs", "alt": 86, "temp": -6.5},
      {"series": "Local Time: 12 hrs", "alt": 85, "temp": -7.3},
      {"series": "Local Time: 12 hrs", "alt": 84, "temp": -7.7},
      {"series": "Local Time: 12 hrs", "alt": 83, "temp": -7.6},
      {"series": "Local Time: 12 hrs", "alt": 82, "temp": -7.0},
      {"series": "Local Time: 12 hrs", "alt": 81, "temp": -5.5},
      {"series": "Local Time: 12 hrs", "alt": 80, "temp": -3.8},
      {"series": "Local Time: 12 hrs", "alt": 79, "temp": -2.2},
      {"series": "Local Time: 12 hrs", "alt": 78, "temp": -0.8},
      {"series": "Local Time: 12 hrs", "alt": 77, "temp": 1.0},
      {"series": "Local Time: 12 hrs", "alt": 76, "temp": 2.5},
      {"series": "Local Time: 12 hrs", "alt": 75, "temp": 3.8},
      {"series": "Local Time: 12 hrs", "alt": 74, "temp": 4.8},
      {"series": "Local Time: 12 hrs", "alt": 73, "temp": 5.4},
      {"series": "Local Time: 12 hrs", "alt": 72, "temp": 5.6},
      {"series": "Local Time: 12 hrs", "alt": 70, "temp": 5.2},
      {"series": "Local Time: 12 hrs", "alt": 68, "temp": 4.3},
      {"series": "Local Time: 12 hrs", "alt": 66, "temp": 3.2},
      {"series": "Local Time: 12 hrs", "alt": 64, "temp": 2.2},
      {"series": "Local Time: 12 hrs", "alt": 62, "temp": 1.2},
      {"series": "Local Time: 12 hrs", "alt": 60, "temp": 0.5},
      {"series": "Local Time: 12 hrs", "alt": 58, "temp": -0.3},
      {"series": "Local Time: 12 hrs", "alt": 56, "temp": -0.8},
      {"series": "Local Time: 12 hrs", "alt": 54, "temp": -1.1},
      {"series": "Local Time: 12 hrs", "alt": 52, "temp": -1.3},
      {"series": "Local Time: 12 hrs", "alt": 50, "temp": -1.3},
      {"series": "Local Time: 12 hrs", "alt": 48, "temp": -1.1},
      {"series": "Local Time: 12 hrs", "alt": 46, "temp": -0.8},
      {"series": "Local Time: 12 hrs", "alt": 44, "temp": -0.4},
      {"series": "Local Time: 12 hrs", "alt": 42, "temp": 0.1},
      {"series": "Local Time: 12 hrs", "alt": 40, "temp": 0.6}
    ]
  },
  "data": {"name": "gswm"},
  "layer": [
    {
      "mark": {"type": "line", "strokeWidth": 1, "clip": true},
      "encoding": {
        "x": {
          "field": "temp",
          "type": "quantitative",
          "scale": {"domain": [-100, 100], "nice": false, "zero": false},
          "axis": {
            "orient": "bottom",
            "values": [-100, -95, -90, -85, -80, -75, -70, -65, -60, -55, -50, -45, -40, -35, -30, -25, -20, -15, -10, -5, 0, 5, 10, 15, 20, 25, 30, 35, 40, 45, 50, 55, 60, 65, 70, 75, 80, 85, 90, 95, 100],
            "title": "Temperature Perturbation (K)",
            "titlePadding": 7,
            "labelExpr": "datum.value % 20 === 0 ? '' + datum.value : ''",
            "labelPadding": 16,
            "tickSize": {"condition": {"test": "datum.value % 20 === 0", "value": -6}, "value": -3},
            "grid": true,
            "gridOpacity": {"condition": {"test": "datum.value % 20 === 0", "value": 1}, "value": 0}
          }
        },
        "y": {
          "field": "alt",
          "type": "quantitative",
          "scale": {"domain": [40, 125], "nice": false, "zero": false},
          "axis": {
            "orient": "left",
            "values": [40, 42, 44, 46, 48, 50, 52, 54, 56, 58, 60, 62, 64, 66, 68, 70, 72, 74, 76, 78, 80, 82, 84, 86, 88, 90, 92, 94, 96, 98, 100, 102, 104, 106, 108, 110, 112, 114, 116, 118, 120, 122, 124],
            "title": "Altitude (km)",
            "titlePadding": 22,
            "labelExpr": "datum.value % 10 === 0 ? '' + datum.value : ''",
            "labelPadding": 4,
            "tickSize": {"condition": {"test": "datum.value % 10 === 0", "value": -6}, "value": -3},
            "grid": true,
            "gridOpacity": {"condition": {"test": "datum.value % 10 === 0", "value": 1}, "value": 0}
          }
        },
        "color": {
          "field": "series",
          "type": "nominal",
          "scale": {
            "domain": ["Local Time: 0 hrs", "Local Time: 2 hrs", "Local Time: 4 hrs", "Local Time: 6 hrs", "Local Time: 8 hrs", "Local Time: 10 hrs", "Local Time: 12 hrs"],
            "range": ["#000000", "#ff0000", "#008000", "#00ffff", "#ff00ff", "#0000ff", "#c0c0c0"]
          },
          "legend": {
            "orient": "none",
            "legendX": 15,
            "legendY": 326,
            "title": null,
            "symbolType": "M-3,0H3",
            "symbolSize": 128,
            "symbolStrokeWidth": 1,
            "symbolOffset": 8.5,
            "labelOffset": 16.5,
            "labelFontSize": 15.5,
            "labelColor": "black",
            "labelLimit": 300,
            "padding": 13,
            "rowPadding": 3.8,
            "strokeColor": "black",
            "fillColor": "white"
          }
        },
        "order": {"field": "alt", "type": "quantitative"}
      }
    },
    {
      "mark": {"type": "point", "opacity": 0},
      "encoding": {
        "x": {
          "field": "temp",
          "type": "quantitative",
          "axis": {
            "orient": "top",
            "values": [-100, -95, -90, -85, -80, -75, -70, -65, -60, -55, -50, -45, -40, -35, -30, -25, -20, -15, -10, -5, 0, 5, 10, 15, 20, 25, 30, 35, 40, 45, 50, 55, 60, 65, 70, 75, 80, 85, 90, 95, 100],
            "title": null,
            "labels": false,
            "grid": false,
            "tickSize": {"condition": {"test": "datum.value % 20 === 0", "value": -6}, "value": -3}
          }
        },
        "y": {
          "field": "alt",
          "type": "quantitative",
          "axis": {
            "orient": "right",
            "values": [40, 42, 44, 46, 48, 50, 52, 54, 56, 58, 60, 62, 64, 66, 68, 70, 72, 74, 76, 78, 80, 82, 84, 86, 88, 90, 92, 94, 96, 98, 100, 102, 104, 106, 108, 110, 112, 114, 116, 118, 120, 122, 124],
            "title": null,
            "labels": false,
            "grid": false,
            "tickSize": {"condition": {"test": "datum.value % 10 === 0", "value": -6}, "value": -3}
          }
        }
      }
    }
  ],
  "resolve": {"axis": {"x": "independent", "y": "independent"}},
  "config": {
    "font": "Liberation Sans",
    "view": {"stroke": "black", "strokeWidth": 1},
    "axis": {
      "domainColor": "black",
      "domainWidth": 1,
      "tickColor": "black",
      "tickWidth": 1,
      "labelColor": "black",
      "labelFontSize": 15,
      "labelFlush": false,
      "labelOverlap": false,
      "labelBound": false,
      "titleColor": "black",
      "titleFontSize": 18,
      "titleFontWeight": "normal",
      "gridColor": "#c0c0c0",
      "gridWidth": 1,
      "gridDash": [11, 5]
    }
  }
}
